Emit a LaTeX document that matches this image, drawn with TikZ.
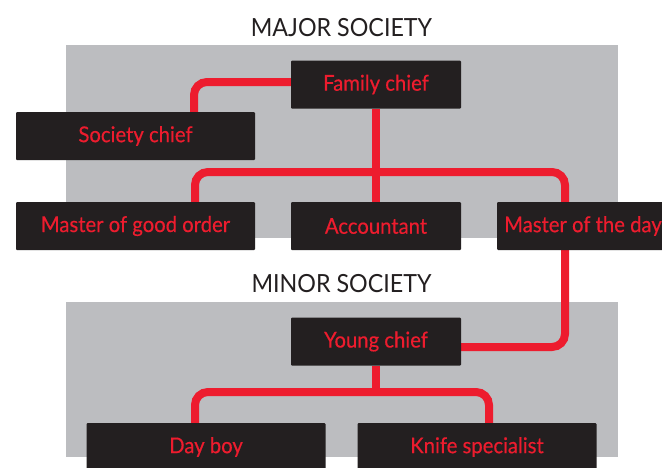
\documentclass[tikz,border=0pt]{standalone}
\usepackage{fontspec}
\setmainfont{Lato}[FakeStretch=0.93]
\newfontfamily\labelfont{Lato}[FakeStretch=0.93, FakeBold=0.4]
\definecolor{boxblack}{HTML}{231F20}
\definecolor{linkred}{HTML}{ED1C2E}
\definecolor{panelgray}{HTML}{BCBDC0}
\pgfdeclarelayer{bgpanel}
\pgfdeclarelayer{bglink}
\pgfsetlayers{bgpanel,bglink,main}
\tikzset{
  lbl/.style={text=linkred, font=\labelfont\fontsize{21.8}{24}\selectfont},
  box/.style={lbl, fill=boxblack, rounded corners=1pt, inner sep=0pt,
    minimum height=48pt},
  link/.style={draw=linkred, line width=8pt, rounded corners=13pt},
  title/.style={text=boxblack, font=\fontsize{25}{28}\selectfont, inner sep=0pt}
}
\begin{document}
\begin{tikzpicture}[x=1pt, y=-1pt]
\useasboundingbox (0,0) rectangle (662,467);
\clip (0,0) rectangle (662,467);
% titles
\node[title] (t1) at (341.5,28) {MAJOR SOCIETY};
\node[title] (t2) at (341.5,284) {MINOR SOCIETY};
% boxes
\node[box, minimum width=170pt] (fam) at (376,84.5) {Family chief};
\node[box, minimum width=239pt] (soc) at (135.5,136) {Society chief};
\node[box, minimum width=239pt] (mgo) at (135.5,226) {Master of good order};
\node[box, minimum width=170pt] (acc) at (376,226) {Accountant};
\node[box, minimum width=239pt, anchor=west] (mod) at (497,226) {};
\node[lbl, inner sep=0pt, anchor=west] (modl) at (504,226) {Master of the day};
\node[box, minimum width=170pt] (yc) at (376,341.5) {Young chief};
\node[box, minimum width=239pt] (day) at (206,447) {Day boy};
\node[box, minimum width=239pt] (knife) at (477,447) {Knife specialist};
% panels
\begin{pgfonlayer}{bgpanel}
\fill[panelgray] (66,45) rectangle (618,238);
\fill[panelgray] (66,302) rectangle (618,457);
\end{pgfonlayer}
% links
\coordinate (j1) at (376,172);
\coordinate (j2) at (376,392);
\begin{pgfonlayer}{bglink}
\draw[link] ([yshift=2.5pt]fam.west) -| ([xshift=58.5pt]soc.north);
\draw[link] (fam.south) -- (acc.north);
\draw[link] ([xshift=59.5pt]mgo.north) |- (j1) -| ([xshift=68pt]mod.north west);
\draw[link] ([xshift=68pt]mod.south west) |- ([yshift=-5.5pt]yc.east);
\draw[link] (yc.south) -- (j2);
\draw[link] ([xshift=-11pt]day.north) |- (j2) -| ([xshift=12pt]knife.north);
\end{pgfonlayer}
\end{tikzpicture}
\end{document}
